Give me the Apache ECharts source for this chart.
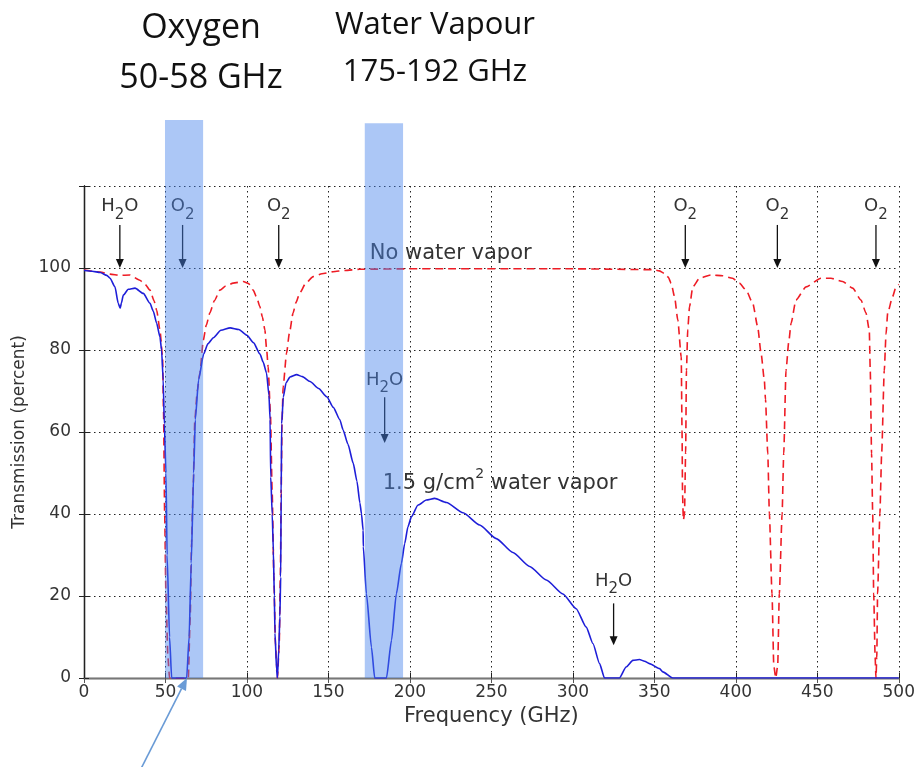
<!DOCTYPE html>
<html>
<head>
<meta charset="utf-8">
<script src="https://cdn.jsdelivr.net/npm/echarts@6/dist/echarts.min.js"></script>
<style>
html, body { margin: 0; padding: 0; background: #fff; }
#main { width: 918px; height: 767px; }
</style>
</head>
<body>
<div id="main"></div>
<script>
// transmission (%) vs frequency (GHz)
const wetFreq = [0, 5, 10, 14, 16, 19, 21, 22.2, 23, 24.1, 27.2, 31.3, 36.4, 40.5, 42.5, 44.6, 46.6, 47.6, 48.6,
  49.3, 50.3, 51, 52.5, 53.8, 63, 64.5, 65.8, 67.3, 68.3, 70.3, 73.4, 76, 79.4, 84, 89.7, 95, 100, 104, 108, 110,
  112, 113.5, 114.2, 114.6, 115.5, 116.2, 116.8, 117.2, 118.2, 118.7, 119.5, 120.2, 120.7, 121, 121.3, 122.3, 124,
  126.4, 130.5, 134, 138.7, 144, 149, 153, 157, 159, 162, 165.2, 167.5, 169.3, 170.3, 171.3, 171.4, 173.3, 176.4,
  178.4, 185.6, 188.7, 191.7, 194.8, 196.8, 198.8, 200.9, 205, 210.1, 215.2, 222.4, 232.6, 242.8, 253, 263.2,
  273.5, 283.7, 293.9, 302, 308.2, 312.3, 316.4, 319.4, 328.6, 332.7, 336.8, 340.9, 344, 347, 353.2, 355.2, 361.3, 500];
const wetTrans = [99.4, 99.2, 98.9, 98.2, 97.5, 95.4, 91.4, 90.2, 91.5, 93.4, 94.8, 95.1, 93.8, 91.4, 89.5, 86.5, 83.2, 80, 72.7,
  62, 50, 30, 10, 0, 0, 10, 28, 50, 63, 72.7, 79, 81.5, 83, 84.8, 85.4, 85, 83.6, 81.8, 79, 77,
  74.4, 69, 63, 49, 40, 31, 20, 11, 2, 0, 6.8, 15, 24.6, 45, 62, 68.5, 72,
  73.4, 74, 73.5, 72.3, 70.6, 68.6, 66, 63, 60.5, 57, 52.4, 48, 42.7, 40, 36, 32, 20.6, 7.5,
  0, 0, 9.2, 20.6, 28, 32.8, 36.9, 39.3, 42.2, 43.4, 43.8, 42.8, 40.3, 37.3, 34, 30.6,
  27.2, 23.9, 20.5, 16.9, 12.4, 8.4, 3.5, 0, 0, 2.7, 4.3, 4.5, 4.1, 3.5, 2.3, 1.5, 0, 0];

const dryFreq = [0, 10, 16, 22, 28, 34.3, 37.5, 40.5, 43, 44.6, 46.6, 48.2, 48.8, 49.5, 50.3, 51.5, 52.5, 64, 65.2,
  66, 67, 68, 69.5, 71.1, 73.2, 75, 77.2, 80, 83.4, 87, 91.5, 97.7, 101, 103.8, 106, 107.9, 109.5, 111, 112, 113,
  114.4, 115.5, 116.5, 117.5, 118.7, 119.8, 120.5, 121, 121.5, 122.2, 124.3, 126, 128.3, 130, 132.4, 136, 140.6,
  146, 152.9, 160, 169.2, 200, 300, 349, 353, 356.2, 358.5, 360.3, 362.4, 364.4, 366.5, 367, 367.3, 367.8, 368.5,
  369.2, 369.7, 370.5, 371.6, 373.6, 377.7, 384.8, 392, 398, 402.2, 406.3, 410.4, 413.4, 415.5, 417.5, 418.2,
  419.6, 420.6, 422.2, 423.3, 424.5, 425.7, 426.7, 428.4, 429.4, 430.8, 432.5, 433.9, 436.9, 443.1, 452.3, 458.4,
  465.5, 471.7, 476.8, 479.9, 481.9, 482.5, 483.3, 484, 484.6, 485.5, 486, 486.5, 487, 488.4, 489.5, 491.1, 492.2,
  493.2, 496.2, 498.3, 500];
const dryTrans = [99.5, 99, 98.5, 98.2, 98.3, 97, 96, 94.6, 92, 89.7, 84.9, 78.4, 65, 40, 20, 5, 0, 0, 15,
  33, 46.6, 63, 70, 74.4, 82.4, 86, 89, 92, 94.6, 95.6, 96.3, 96.7, 96.2, 94.6, 92.8, 90.6, 88, 84.9, 80.5, 75.9,
  64.6, 45, 25, 8, 0, 8, 25, 45, 62, 71, 79.2, 84, 89, 91.5, 93.9, 96.2, 97.9,
  98.6, 99.1, 99.4, 99.7, 99.8, 99.8, 99.6, 99.3, 98.7, 97.8, 96.3, 93, 87.3, 78.3, 60, 45, 38.5, 40,
  55, 75, 85, 90.6, 95.4, 97.5, 98.3, 98.1, 97.5, 96.3, 94.6, 91.4, 85.7, 79.2, 72.7, 68,
  54.8, 40.1, 20.6, 3, 0, 3, 20.6, 40, 54.8, 75, 82, 86.5, 92.2, 95.4, 97.5, 97.5,
  96.7, 95.1, 92.2, 89, 84.9, 75, 54.8, 40, 20.6, 5, 0, 5, 20.6, 40, 54.8, 75, 84,
  89, 93, 95.4, 96];

// shaded bands (GHz from, GHz to, top in %)
const bandStart = [49.7, 172.3];
const bandEnd = [73.1, 195.8];
const bandTop = [136.1, 135.3];

// absorption line markers
const lineFreq = [22, 60.5, 119.5, 369, 425.5, 486, 184.5, 325];
const lineName = ['H2O', 'O2', 'O2', 'O2', 'O2', 'O2', 'H2O', 'H2O'];
const nameLevel = [115, 115, 115, 115, 115, 115, 72.7, 23.7];
const arrowFrom = [110.5, 110.5, 110.5, 110.5, 110.5, 110.5, 68.5, 18.2];
const arrowTo = [100, 100, 100, 100, 100, 100, 57.3, 8];

// curve notes
const noteText = ['{n|No water vapor}', '{n|1.5 g/cm}{p|2}{n| water vapor}'];
const noteFreq = [175.4, 183.3];
const noteLevel = [103.6, 47.5];

// pointer arrow below the axis [freq, level]
const pointerStart = [34.5, -22.5];
const pointerEnd = [63.2, 0];

const font = 'DejaVu Sans';

function zip(xs, ys) {
  return xs.map((x, i) => [x, ys[i]]);
}

function renderBand(params, api) {
  const a = api.coord([api.value(0), 0]);
  const b = api.coord([api.value(1), api.value(2)]);
  return {
    type: 'rect',
    shape: { x: a[0], y: b[1], width: b[0] - a[0], height: a[1] - b[1] },
    style: { fill: 'rgba(70,130,235,0.45)' }
  };
}

function renderMark(params, api) {
  const i = params.dataIndex;
  const x = api.value(0);
  const lab = api.coord([x, api.value(1)]);
  const top = api.coord([x, api.value(2)]);
  const tip = api.coord([x, api.value(3)]);
  const txt = lineName[i] === 'H2O' ? '{n|H}{s|2}{n|O}' : '{n|O}{s|2}';
  return {
    type: 'group',
    children: [
      { type: 'line', shape: { x1: top[0], y1: top[1], x2: tip[0], y2: tip[1] - 6 },
        style: { stroke: '#111', lineWidth: 1.3 } },
      { type: 'polygon', shape: { points: [[tip[0] - 4, tip[1] - 9], [tip[0] + 4, tip[1] - 9], [tip[0], tip[1]]] },
        style: { fill: '#111' } },
      { type: 'text', style: {
          text: txt, x: lab[0], y: lab[1] - 9, align: 'center', verticalAlign: 'top',
          rich: {
            n: { fontSize: 18, fontFamily: font, fill: '#333', lineHeight: 18, verticalAlign: 'top' },
            s: { fontSize: 15, fontFamily: font, fill: '#333', lineHeight: 15, padding: [10, 0, 0, 0], verticalAlign: 'top' }
          } } }
    ]
  };
}

function renderNote(params, api) {
  const i = params.dataIndex;
  const p = api.coord([api.value(0), api.value(1)]);
  return {
    type: 'text',
    style: {
      text: noteText[i], x: p[0], y: p[1] - 16, align: 'left', verticalAlign: 'top',
      rich: {
        n: { fontSize: 21, fontFamily: font, fill: '#333', lineHeight: 21, padding: [6, 0, 0, 0], verticalAlign: 'top' },
        p: { fontSize: 14, fontFamily: font, fill: '#333', lineHeight: 14, verticalAlign: 'top' }
      }
    }
  };
}

function renderPointer(params, api) {
  const a = api.coord([api.value(0), api.value(1)]);
  const b = api.coord([api.value(2), api.value(3)]);
  const ang = Math.atan2(b[1] - a[1], b[0] - a[0]);
  const L = 12, W = 5;
  const bx = b[0] - L * Math.cos(ang), by = b[1] - L * Math.sin(ang);
  const nx = -Math.sin(ang) * W, ny = Math.cos(ang) * W;
  return {
    type: 'group',
    children: [
      { type: 'line', shape: { x1: a[0], y1: a[1], x2: bx, y2: by }, style: { stroke: '#6a9bd6', lineWidth: 1.6 } },
      { type: 'polygon', shape: { points: [[b[0], b[1]], [bx + nx, by + ny], [bx - nx, by - ny]] }, style: { fill: '#6a9bd6' } }
    ]
  };
}

const chart = echarts.init(document.getElementById('main'));

const gridLine = { lineStyle: { color: '#222', width: 1, type: [1.5, 3.5] } };

const option = {
  backgroundColor: '#fff',
  animation: false,
  graphic: [
    { type: 'text', x: 201, y: 28, style: { text: 'Oxygen', align: 'center', verticalAlign: 'middle', font: '34px "Open Sans"', fill: '#111' } },
    { type: 'text', x: 201, y: 78, style: { text: '50-58 GHz', align: 'center', verticalAlign: 'middle', font: '34px "Open Sans"', fill: '#111' } },
    { type: 'text', x: 435, y: 25, style: { text: 'Water Vapour', align: 'center', verticalAlign: 'middle', font: '31px "Open Sans"', fill: '#111' } },
    { type: 'text', x: 435, y: 72, style: { text: '175-192 GHz', align: 'center', verticalAlign: 'middle', font: '31px "Open Sans"', fill: '#111' } }
  ],
  grid: { left: 84, right: 19, top: 186, bottom: 89, containLabel: false },
  xAxis: [
    {
      type: 'value', min: 0, max: 500, interval: 50,
      axisLine: { lineStyle: { color: '#222', width: 1.3 } },
      axisTick: { inside: true, length: 5, lineStyle: { color: '#222' } },
      axisLabel: { fontSize: 17, color: '#333', fontFamily: font, margin: 6 },
      splitLine: gridLine,
      name: 'Frequency (GHz)', nameLocation: 'middle', nameGap: 24,
      nameTextStyle: { fontSize: 21, color: '#333', fontFamily: font }
    },
    {
      type: 'value', position: 'top', min: 0, max: 500, interval: 50,
      axisLine: { lineStyle: { color: '#777', width: 1.3 } },
      axisTick: { inside: true, length: 5, lineStyle: { color: '#555' } },
      axisLabel: { show: false }, splitLine: { show: false }
    }
  ],
  yAxis: [
    {
      type: 'value', min: 0, max: 120, interval: 20,
      axisLine: { show: true, lineStyle: { color: '#222', width: 1.3 } },
      axisTick: { show: true, inside: true, length: 5, lineStyle: { color: '#222' } },
      axisLabel: { fontSize: 17, color: '#333', fontFamily: font, margin: 13, formatter: v => (v === 120 ? '' : v) },
      splitLine: gridLine,
      name: 'Transmission (percent)', nameLocation: 'middle', nameGap: 40, nameRotate: 90,
      nameTextStyle: { fontSize: 17, color: '#333', fontFamily: font }
    },
    {
      type: 'value', position: 'right', min: 0, max: 120, interval: 20,
      axisLine: { show: true, lineStyle: { color: '#222', width: 1.3 } },
      axisTick: { show: true, inside: true, length: 5, lineStyle: { color: '#222' } },
      axisLabel: { show: false }, splitLine: { show: false }
    }
  ],
  series: [
    {
      type: 'line', name: 'No water vapor', data: zip(dryFreq, dryTrans),
      symbol: 'none', smooth: 0.2, smoothMonotone: 'x',
      lineStyle: { color: '#ee1c25', width: 1.6, type: [8, 5] }, z: 3
    },
    {
      type: 'line', name: '1.5 g/cm2 water vapor', data: zip(wetFreq, wetTrans),
      symbol: 'none', smooth: 0.2, smoothMonotone: 'x',
      lineStyle: { color: '#1e1ed8', width: 1.6 }, z: 4
    },
    {
      type: 'custom', renderItem: renderMark, clip: false, z: 5,
      data: lineFreq.map((f, i) => [f, nameLevel[i], arrowFrom[i], arrowTo[i]])
    },
    {
      type: 'custom', renderItem: renderNote, clip: false, z: 5,
      data: noteFreq.map((f, i) => [f, noteLevel[i]])
    },
    {
      type: 'custom', renderItem: renderBand, clip: false, z: 6,
      data: bandStart.map((s, i) => [s, bandEnd[i], bandTop[i]])
    },
    {
      type: 'custom', renderItem: renderPointer, clip: false, z: 6,
      data: [[pointerStart[0], pointerStart[1], pointerEnd[0], pointerEnd[1]]]
    }
  ]
};

chart.setOption(option);
</script>
</body>
</html>
